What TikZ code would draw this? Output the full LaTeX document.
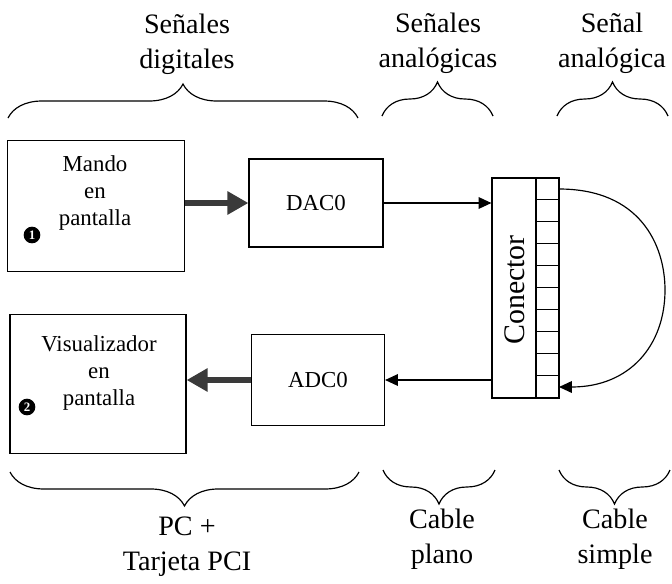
\documentclass[tikz,border=0pt]{standalone}
\usepackage{fontspec}
\setmainfont{Liberation Serif}
\usetikzlibrary{arrows.meta,decorations.pathreplacing}

\definecolor{arrowgray}{HTML}{3A3A3A}

\begin{document}
\begin{tikzpicture}[
  x=0.03cm, y=-0.03cm,
  box/.style={rectangle, draw, line width=1pt, inner sep=0pt},
  boxtext/.style={align=center, font=\fontsize{19.5}{23}\selectfont},
  label/.style={align=center, font=\fontsize{24}{30}\selectfont},
  num/.style={circle, fill=black, text=white, inner sep=0pt, minimum size=0.5cm, font=\bfseries\fontsize{11}{11}\selectfont},
  bigarrow/.style={line width=4.5pt, arrowgray, -{Triangle[length=18pt,width=19pt]}},
  thinarrow/.style={line width=1pt, -{Triangle[length=11pt,width=10pt]}},
  brc/.style={decorate, line width=1pt, decoration={brace, amplitude=29pt}}
  ]

  \useasboundingbox (0,0) rectangle (672,583);

  % blocks
  \node[box, minimum width=177*0.03cm, minimum height=131*0.03cm] (mando) at (96,206) {};
  \node[boxtext] (mandot) at (95,193) {Mando\\en\\pantalla};
  \node[num] (n1) at (32,235) {1};

  \node[box, minimum width=176*0.03cm, minimum height=139*0.03cm] (visu) at (98,384) {};
  \node[boxtext] (visut) at (99,373) {Visualizador\\en\\pantalla};
  \node[num] (n2) at (27,407) {2};

  \node[box, boxtext, minimum width=134*0.03cm, minimum height=88*0.03cm] (dac) at (316,203) {DAC0};
  \node[box, boxtext, minimum width=133*0.03cm, minimum height=91*0.03cm] (adc) at (318,380) {ADC0};

  % connector with pins
  \node[box, minimum width=44*0.03cm, minimum height=220*0.03cm] (con) at (514,288) {};
  \node[rotate=90, font=\fontsize{25.5}{25.5}\selectfont] (cont) at (515,290) {Conector};
  \node[box, minimum width=23*0.03cm, minimum height=220*0.03cm] (pins) at (547.5,288) {};
  \foreach \i in {1,...,9}
    \draw[line width=1pt] ([yshift=-22*\i*0.03cm]pins.north west) -- ([yshift=-22*\i*0.03cm]pins.north east);

  \coordinate (pin1) at (559,189);
  \coordinate (pin10) at (559,387);

  % signals
  \draw[bigarrow] (mando.east |- dac.west) -- (dac.west);
  \draw[bigarrow] (adc.west) -- (visu.east |- adc.west);
  \draw[thinarrow] (dac.east) -- (con.west |- dac.east);
  \draw[thinarrow] (con.west |- adc.east) -- (adc.east);
  \draw[thinarrow] (pin1) .. controls (640,189) and (665,245) .. (665,290)
    .. controls (665,345) and (630,387) .. (pin10);

  % braces top
  \coordinate (t1a) at (8,118);   \coordinate (t1b) at (358,118);
  \coordinate (t2a) at (382,116); \coordinate (t2b) at (493,116);
  \coordinate (t3a) at (557,116); \coordinate (t3b) at (668,116);
  \draw[brc] (t1a) -- (t1b);
  \draw[brc] (t2a) -- (t2b);
  \draw[brc] (t3a) -- (t3b);
  \node[label] (l1) at (187,44) {Señales\\digitales};
  \node[label] (l2) at (438,43) {Señales\\analógicas};
  \node[label] (l3) at (612,43) {Señal\\analógica};

  % braces bottom
  \coordinate (b1a) at (10,472);  \coordinate (b1b) at (359,472);
  \coordinate (b2a) at (383,470); \coordinate (b2b) at (495,470);
  \coordinate (b3a) at (559,470); \coordinate (b3b) at (670,470);
  \draw[brc] (b1b) -- (b1a);
  \draw[brc] (b2b) -- (b2a);
  \draw[brc] (b3b) -- (b3a);
  \node[label] (l4) at (187,547) {PC +\\Tarjeta PCI};
  \node[label] (l5) at (442,539) {Cable\\plano};
  \node[label] (l6) at (615,539) {Cable\\simple};

\end{tikzpicture}
\end{document}
